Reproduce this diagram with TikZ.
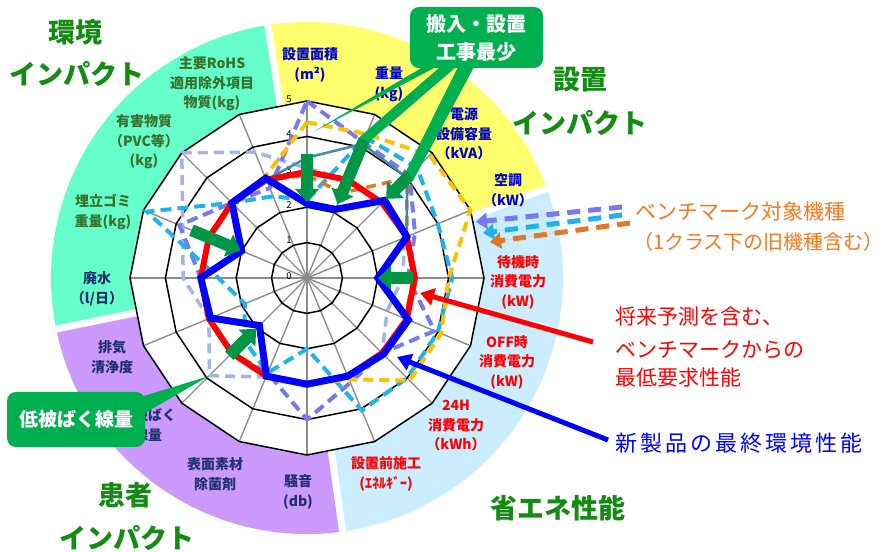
\documentclass[tikz,border=0pt]{standalone}
\usepackage{fontspec}
\setmainfont{Noto Sans CJK JP}
\usetikzlibrary{arrows.meta}
\definecolor{tealbg}{RGB}{102,255,204}
\definecolor{yellowbg}{RGB}{255,255,110}
\definecolor{bluebg}{RGB}{204,236,255}
\definecolor{purplebg}{RGB}{204,153,255}
\definecolor{labgreen}{RGB}{56,112,44}
\definecolor{labnavy}{RGB}{32,48,110}
\definecolor{labblue}{RGB}{0,0,204}
\definecolor{titlegreen}{RGB}{20,140,20}
\definecolor{calloutc}{RGB}{0,176,80}
\definecolor{garrowc}{RGB}{0,150,70}
\definecolor{pwc}{RGB}{120,120,240}
\definecolor{gbc}{RGB}{165,180,230}
\definecolor{cyc}{RGB}{30,180,235}
\definecolor{gdc}{RGB}{255,192,0}
\definecolor{orc}{RGB}{225,120,40}
\definecolor{tlc}{RGB}{60,140,170}
\definecolor{legor}{RGB}{245,120,30}
\definecolor{spokec}{RGB}{140,140,140}
\definecolor{pureblue}{RGB}{0,0,255}
\newcommand\radar[3]{%
  \foreach \v [count=\i from 0] in {#3}{\coordinate (#1\i) at ({90-22.5*\i}:{35.4*\v});}%
  \draw[#2] (#10)--(#11)--(#12)--(#13)--(#14)--(#15)--(#16)--(#17)--(#18)--(#19)--(#110)--(#111)--(#112)--(#113)--(#114)--(#115)--cycle;}
\newcommand\garrow[3]{\fill[garrowc, rotate=#1] (#2,-6) -- ({#3+13},-6) -- ({#3+13},-12) -- (#3,0) -- ({#3+13},12) -- ({#3+13},6) -- (#2,6) -- cycle;}
\tikzset{
  lab/.style={font=\bfseries\fontsize{14}{19.5}\selectfont, align=center, inner sep=0pt},
  laby/.style={lab, text=labblue},
  labg/.style={lab, text=labgreen},
  labn/.style={lab, text=labnavy},
  labr/.style={lab, text=red},
  title/.style={font=\bfseries\fontsize{27}{30}\selectfont, text=titlegreen, inner sep=0pt},
  numlab/.style={font=\fontsize{9.5}{10}\selectfont, inner sep=0pt},
  spoke/.style={draw=spokec, line width=1.4pt},
  ringline/.style={draw=black, line width=1.5pt},
  gbline/.style={draw=gbc, line width=3.5pt, dash pattern=on 10pt off 6pt},
  pwline/.style={draw=pwc, line width=4pt, dash pattern=on 11pt off 6pt},
  cyline/.style={draw=cyc, line width=4pt, dash pattern=on 11pt off 6pt},
  gdline/.style={draw=gdc, line width=4pt, dash pattern=on 10pt off 6pt},
  orline/.style={draw=orc, line width=3.5pt, dash pattern=on 10pt off 6pt},
  tlline/.style={draw=tlc, line width=2.5pt},
  redline/.style={draw=red, line width=6pt, line join=round},
  blueline/.style={draw=pureblue, line width=7pt, line join=miter, miter limit=2},
  calloutbox/.style={fill=calloutc, rounded corners=9pt, text=white, align=center, inner sep=0pt},
  legarrow/.style={line width=5pt, dash pattern=on 13pt off 8pt, -{Triangle[length=11pt,width=16pt]}},
  legtext/.style={anchor=west, inner sep=0pt, font=\fontsize{21}{24}\selectfont}
}
\begin{document}
\begin{tikzpicture}[x=1pt,y=1pt]
\useasboundingbox (0,0) rectangle (888,551);
\fill[white] (0,0) rectangle (888,551);
\begin{scope}[shift={(307,273)}]
  % background sectors
  \fill[tealbg] (0,0) -- (98.8:256) arc[start angle=98.8, end angle=191.5, radius=256pt] -- cycle;
  \fill[yellowbg] (0,0) -- (20.5:256) arc[start angle=20.5, end angle=98.8, radius=256pt] -- cycle;
  \fill[bluebg] (0,0) -- (-82:256) arc[start angle=-82, end angle=20.5, radius=256pt] -- cycle;
  \fill[purplebg] (0,0) -- (191.5:256) arc[start angle=191.5, end angle=278, radius=256pt] -- cycle;
  \foreach \a in {98.8,191.5,278,20.5} \draw[white, line width=7pt] (0,0) -- (\a:262);
  % plot area
  \fill[white] plot[samples at={0,22.5,...,337.5}] (\x:177) -- cycle;
  \foreach \a in {0,22.5,...,337.5} \draw[spoke] (0,0) -- (\a:177);
  \foreach \k in {1,...,5} \draw[ringline] plot[samples at={0,22.5,...,337.5}] (\x:{35.4*\k}) -- cycle;
  \foreach \k in {0,...,5} \node[numlab] (num\k) at (-18,{35.4*\k+2}) {\k};
  % benchmark series
  \radar{gb}{gbline}{3.1,3.0,3.0,3.0,2.7,2.45,3.0,3.0,3.0,3.03,3.9,3.0,3.5,3.8,5.0,3.85}
  \radar{pw}{pwline}{5.0,4.15,4.1,3.3,2.85,3.9,3.0,3.2,4.0,2.9,3.0,3.0,3.0,3.9,3.0,2.75}
  \radar{cy}{cyline}{2.2,4.3,4.4,4.0,4.1,4.0,4.0,4.05,2.0,2.9,2.5,1.9,2.5,4.9,3.0,2.5}
  \radar{gd}{gdline}{4.4,4.4,4.9,5.0,4.0,4.1,4.1,3.1,3.0,3.0,3.0,3.0,3.0,3.0,3.0,3.1}
  \radar{orr}{orline}{2.9,2.6,4.0,3.05,3.0,3.0,3.0,3.0,3.0,3.0,3.0,3.0,3.0,3.0,3.0,3.0}
  \radar{tl}{tlline}{3.4,4.1,4.0,3.05,3.0,3.0,3.0,3.0,3.0,3.0,3.0,3.0,3.0,3.0,3.0,3.0}
  % requirement and new product
  \radar{rq}{redline}{3.0,3.0,3.0,3.05,3.05,3.05,3.0,3.0,3.0,3.0,3.0,3.0,3.0,3.0,3.0,3.0}
  \radar{np}{blueline}{2.1,2.1,3.1,3.05,2.0,3.1,3.05,3.0,3.0,3.0,1.9,2.95,3.0,2.0,3.0,3.05}
  % green improvement arrows
  \garrow{90}{124}{76}
  \garrow{67.5}{150}{80}
  \garrow{45}{146}{112}
  \garrow{0}{106}{71}
  \garrow{157.5}{125}{72}
  \garrow{-135}{110}{72}
\end{scope}
% axis labels
\node[laby] (l0) at (310,486) {設置面積\\(m²)};
\node[laby] (l1) at (389,467) {重量\\(kg)};
\node[laby] (l2) at (464,417) {電源\\設備容量\\（kVA）};
\node[laby] (l3) at (508,361) {空調\\（kW）};
\node[labr] (l4) at (518,269) {待機時\\消費電力\\(kW)};
\node[labr] (l5) at (507,189) {OFF時\\消費電力\\(kW)};
\node[labr] (l6) at (456,125) {24H\\消費電力\\（kWh）};
\node[labr] (l7) at (386,77) {設置前施工\\(ｴﾈﾙｷﾞｰ)};
\node[labn] (l8) at (298,59) {騒音\\(db)};
\node[labn] (l9) at (215,77) {表面素材\\除菌剤};
\node[labn] (l10) at (148,126) {低被ばく\\線量};
\node[labn] (l11) at (112,194) {排気\\清浄度};
\node[labn] (l12) at (97,262) {廃水\\（l/日）};
\node[labg] (l13) at (103,339) {埋立ゴミ\\重量(kg)};
\node[labg] (l14) at (144,409) {有害物質\\（PVC等）\\(kg)};
\node[labg] (l15) at (212,467) {主要RoHS\\適用除外項目\\物質(kg)};
% section titles
\node[title] (t1) at (75,519) {環境};
\node[title] (t2) at (77,477) {インパクト};
\node[title] (t3) at (580,471) {設置};
\node[title] (t4) at (580,428) {インパクト};
\node[title] (t5) at (125,56) {患者};
\node[title] (t6) at (127,13) {インパクト};
\node[title] (t7) at (558,43) {省エネ性能};
% callout wedges
\fill[calloutc] (423,484) -- (436,484) -- (313,419) -- cycle;
\fill[calloutc] (440,484) -- (456,484) -- (369.5,409.5) -- (359.3,413.7) -- cycle;
\fill[calloutc] (458,484) -- (474,484) -- (414.1,372.3) -- (406.3,380.1) -- cycle;
\fill[calloutc] (134,152) -- (145,138) -- (209,175) -- cycle;
% callouts
\node[calloutbox, minimum width=133pt, minimum height=61pt, font=\bfseries\fontsize{20}{28}\selectfont] (callA) at (476.5,513.5) {搬入・設置\\工事最少};
\node[calloutbox, minimum width=138pt, minimum height=55pt, font=\bfseries\fontsize{19}{22}\selectfont] (callB) at (76,131.5) {低被ばく線量};
% legend
\node[legtext, text=legor] (bm1) at (635,339) {ベンチマーク対象機種};
\node[legtext, text=legor, font=\fontsize{20}{24}\selectfont] (bm2) at (633,309) {（1クラス下の旧機種含む）};
\coordinate (pwS) at (622,344); \coordinate (pwE) at (476,329);
\coordinate (cyS) at (622,336); \coordinate (cyE) at (483,318);
\coordinate (orS) at (630,328); \coordinate (orE) at (490,309);
\draw[legarrow, draw=pwc, fill=pwc] (pwS) -- (pwE);
\draw[legarrow, draw=cyc, fill=cyc] (cyS) -- (cyE);
\draw[legarrow, draw=orc, fill=orc] (orS) -- (orE);
\node[legtext, text=red] (rq1) at (615,234) {将来予測を含む、};
\node[legtext, text=red] (rq2) at (615,201) {ベンチマークからの};
\node[legtext, text=red] (rq3) at (615,173) {最低要求性能};
\coordinate (rqS) at (593,209); \coordinate (rqE) at (420,258);
\draw[red, line width=5pt, -{Triangle[length=14pt,width=17pt]}] (rqS) -- (rqE);
\node[legtext, text=pureblue, font=\fontsize{22}{24}\selectfont\addfontfeature{LetterSpace=14}] (np1) at (615,108) {新製品の最終環境性能};
\coordinate (npS) at (608,111); \coordinate (npE) at (397,194);
\draw[pureblue, line width=5pt, -{Triangle[length=14pt,width=17pt]}] (npS) -- (npE);
\end{tikzpicture}
\end{document}
